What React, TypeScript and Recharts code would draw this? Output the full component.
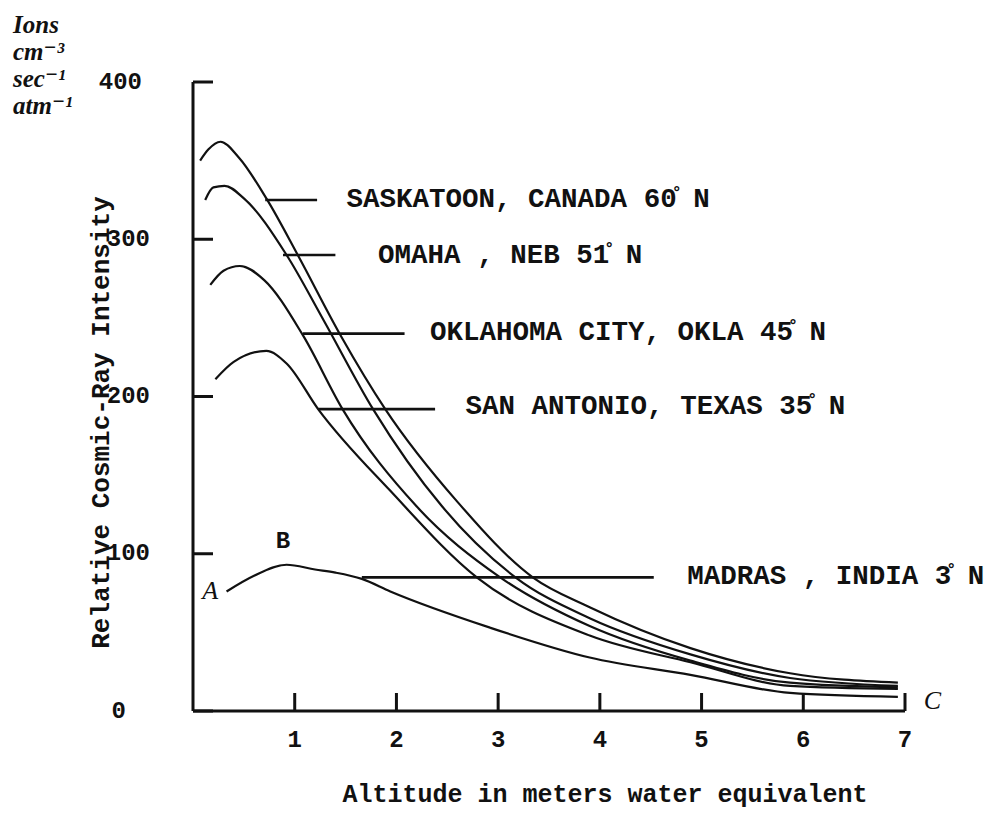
import React from 'react'
import { LineChart, Line, XAxis, YAxis, ReferenceLine, ReferenceDot, Label } from 'recharts'

// curves: altitude (m water equiv.) vs relative intensity
const saskatoon = [
  { x: 0.07, y: 350 }, { x: 0.15, y: 357 }, { x: 0.27, y: 362 }, { x: 0.45, y: 352 },
  { x: 0.73, y: 325 }, { x: 1.03, y: 290 }, { x: 1.45, y: 239 }, { x: 1.89, y: 192 },
  { x: 2.6, y: 133 }, { x: 3.34, y: 85 }, { x: 3.9, y: 66 }, { x: 4.89, y: 40 },
  { x: 5.87, y: 24 }, { x: 6.93, y: 18 },
]
const omaha = [
  { x: 0.12, y: 325 }, { x: 0.2, y: 333 }, { x: 0.31, y: 334 }, { x: 0.5, y: 326 },
  { x: 0.92, y: 290 }, { x: 1.28, y: 249 }, { x: 1.77, y: 192 }, { x: 2.45, y: 130 },
  { x: 3.17, y: 85 }, { x: 3.9, y: 59 }, { x: 4.89, y: 36 }, { x: 5.87, y: 21 },
  { x: 6.93, y: 16 },
]
const oklahoma = [
  { x: 0.17, y: 271 }, { x: 0.3, y: 280 }, { x: 0.46, y: 283 }, { x: 0.7, y: 274 },
  { x: 1.08, y: 239 }, { x: 1.47, y: 192 }, { x: 2.2, y: 130 }, { x: 3.02, y: 85 },
  { x: 3.9, y: 54 }, { x: 4.89, y: 32 }, { x: 5.87, y: 18 }, { x: 6.93, y: 15 },
]
const sanAntonio = [
  { x: 0.22, y: 211 }, { x: 0.4, y: 222 }, { x: 0.72, y: 229 }, { x: 0.92, y: 221 },
  { x: 1.23, y: 192 }, { x: 1.94, y: 140 }, { x: 2.79, y: 85 }, { x: 3.9, y: 48 },
  { x: 4.89, y: 31 }, { x: 5.87, y: 16 }, { x: 6.93, y: 14 },
]
const madras = [
  { x: 0.33, y: 76 }, { x: 0.6, y: 86 }, { x: 0.92, y: 93 }, { x: 1.2, y: 90 },
  { x: 1.4, y: 88 }, { x: 1.66, y: 84 }, { x: 1.94, y: 76 }, { x: 2.92, y: 53 },
  { x: 3.9, y: 34 }, { x: 4.89, y: 23 }, { x: 5.87, y: 11.5 }, { x: 6.93, y: 9 },
]

const xTicks = [1, 2, 3, 4, 5, 6, 7]
const yTicks = [0, 100, 200, 300, 400]

// station names with their leader lines (from, to, level) and where the text starts
// (the degree ring sits over the last digit, as in the typed original)
const stations = [
  { name: 'SASKATOON, CANADA 60\u030A N', from: 0.71, to: 1.22, level: 325, textX: 1.51, textY: 327 },
  { name: 'OMAHA , NEB 51\u030A N', from: 0.885, to: 1.4, level: 290, textX: 1.82, textY: 291 },
  { name: 'OKLAHOMA CITY, OKLA 45\u030A N', from: 1.08, to: 2.08, level: 240, textX: 2.33, textY: 242 },
  { name: 'SAN ANTONIO, TEXAS 35\u030A N', from: 1.23, to: 2.38, level: 192, textX: 2.68, textY: 195 },
  { name: 'MADRAS , INDIA 3\u030A N', from: 1.66, to: 4.53, level: 85, textX: 4.86, textY: 87 },
]

// point letters marked on the Madras curve
const marks = [
  { text: 'A', x: 0.17, y: 77 },
  { text: 'B', x: 0.885, y: 109 },
  { text: 'C', x: 7.27, y: 7 },
]

const typewriter = "'Liberation Mono', 'Courier New', monospace"
const hand = "'Liberation Serif', 'DejaVu Serif', serif"

const YTick = (props: any) => {
  const { x, y, payload } = props
  const shift = payload.value === 400 ? -8 : payload.value === 0 ? -24 : 0
  return (
    <text x={x + shift} y={y} textAnchor="end" dominantBaseline="central"
      fontFamily={typewriter} fontWeight="bold" fontSize={24} fill="#111">
      {payload.value}
    </text>
  )
}

const YTitle = (props: any) => {
  const { viewBox } = props
  const cx = viewBox.x + 94
  const cy = viewBox.y + viewBox.height / 2 + 26
  return (
    <text transform={`translate(${cx}, ${cy}) rotate(-90)`} textAnchor="middle" dominantBaseline="central"
      fontFamily={typewriter} fontWeight="bold" fontSize={26} fill="#111">
      Relative Cosmic-Ray Intensity
    </text>
  )
}

const XTitle = (props: any) => {
  const { viewBox } = props
  const cx = viewBox.x + viewBox.width / 2 + 56
  const cy = viewBox.y + 84
  return (
    <text x={cx} y={cy} textAnchor="middle" dominantBaseline="central"
      fontFamily={typewriter} fontWeight="bold" fontSize={25} fill="#111">
      Altitude in meters water equivalent
    </text>
  )
}

const curves = [saskatoon, omaha, oklahoma, sanAntonio, madras]

export default function App() {
  return (
    <div style={{ position: 'relative', width: 992, height: 816, background: '#fff' }}>
      <div style={{ position: 'absolute', left: 5, top: 3, fontFamily: hand, fontStyle: 'italic', fontWeight: 'bold', fontSize: 25, lineHeight: '27px', color: '#111' }}>
        <div>Ions</div>
        <div>cm⁻³</div>
        <div>sec⁻¹</div>
        <div>atm⁻¹</div>
      </div>
      <LineChart width={992} height={816} margin={{ top: 74, right: 95, bottom: 53, left: 0 }}>
        <XAxis dataKey="x" type="number" domain={[0, 7]} ticks={xTicks} allowDataOverflow
          height={60} stroke="#111" strokeWidth={3} tickSize={-18} tickMargin={37}
          tickLine={{ stroke: '#111', strokeWidth: 3 }}
          tick={{ fontFamily: typewriter, fontWeight: 'bold', fontSize: 24, fill: '#111' }}
          label={<Label content={XTitle} />} />
        <YAxis type="number" domain={[0, 400]} ticks={yTicks} width={185}
          stroke="#111" strokeWidth={3} tickSize={-20} tickMargin={63}
          tickLine={{ stroke: '#111', strokeWidth: 3 }}
          tick={YTick} label={<Label content={YTitle} />} />
        {curves.map((data, i) => (
          <Line key={i} data={data} dataKey="y" type="monotone" stroke="#111" strokeWidth={2.2}
            dot={false} activeDot={false} isAnimationActive={false} />
        ))}
        {stations.map((s) => (
          <ReferenceLine key={s.name} segment={[{ x: s.from, y: s.level }, { x: s.to, y: s.level }]}
            stroke="#111" strokeWidth={2.6} ifOverflow="visible" />
        ))}
        {stations.map((s) => (
          <ReferenceDot key={s.name + '-t'} x={s.textX} y={s.textY} r={0} fill="none" stroke="none"
            ifOverflow="visible"
            label={<Label value={s.name} position="right" offset={0} fill="#111" fontSize={27.5}
              fontFamily={typewriter} fontWeight="bold" />} />
        ))}
        {marks.map((m) => (
          <ReferenceDot key={m.text} x={m.x} y={m.y} r={0} fill="none" stroke="none" ifOverflow="visible"
            label={<Label value={m.text} position="center" fill="#111"
              fontSize={m.text === 'B' ? 24 : 26} fontStyle={m.text === 'B' ? 'normal' : 'italic'}
              fontWeight={m.text === 'B' ? 'bold' : 'normal'}
              fontFamily={m.text === 'B' ? typewriter : hand} />} />
        ))}
      </LineChart>
    </div>
  )
}
